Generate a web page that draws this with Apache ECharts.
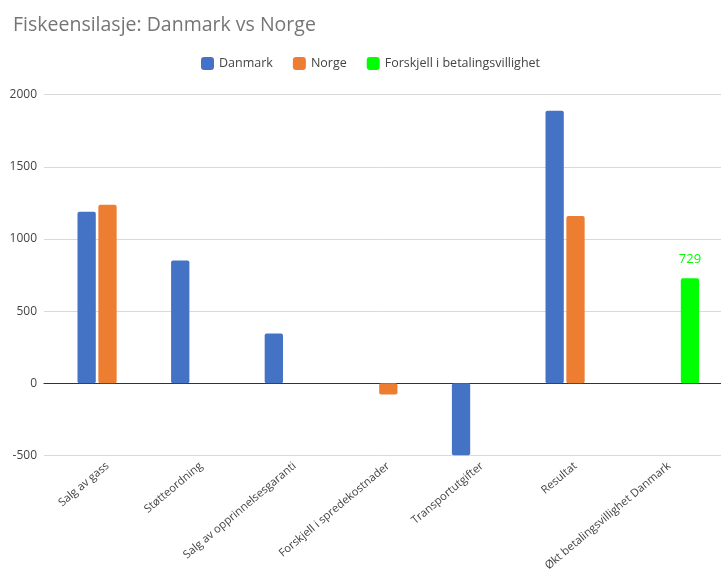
<!DOCTYPE html>
<html>
<head>
<meta charset="utf-8">
<script src="https://cdn.jsdelivr.net/npm/echarts@6/dist/echarts.min.js"></script>
<style>html,body{margin:0;padding:0;background:#fff}#c{width:721px;height:574px}</style>
</head>
<body>
<div id="c"></div>
<script>
const categories = ['Salg av gass','Støtteordning','Salg av opprinnelsesgaranti','Forskjell i spredekostnader','Transportutgifter','Resultat','Økt betalingsvillighet Danmark'];
const danmark = [1189, 852, 346, null, -498, 1889, null];
const norge = [1238, null, null, -78, null, 1160, null];
const forskjell = [null, null, null, null, null, null, 729];
const yTicks = {min: -500, max: 2000, interval: 500};

const chart = echarts.init(document.getElementById('c'));
const font = 'Open Sans';
const gridTop = 94.7, gridHeight = 360.8;
chart.setOption({
  animation: false,
  title: {text: 'Fiskeensilasje: Danmark vs Norge', left: 8, top: 10,
    textStyle: {fontFamily: font, fontSize: 19.5, fontWeight: 'normal', color: '#757575'}},
  legend: {top: 52, left: 196, itemWidth: 13, itemHeight: 13, itemGap: 20,
    textStyle: {fontFamily: font, fontSize: 12.5, color: '#444'},
    data: ['Danmark','Norge','Forskjell i betalingsvillighet']},
  grid: [
    {left: 60.7, width: 655.2, top: gridTop, height: gridHeight, outerBoundsMode: 'none', containLabel: false},
    {left: 44, right: 0, top: gridTop, height: gridHeight, outerBoundsMode: 'none', containLabel: false}
  ],
  xAxis: [
    {type: 'category', gridIndex: 0, data: categories, position: 'bottom',
      axisLine: {show: false, onZero: false}, axisTick: {show: false},
      axisLabel: {rotate: 40, margin: 9, fontFamily: font, fontSize: 11.2, color: '#444', interval: 0}},
    {type: 'category', gridIndex: 1, data: categories,
      axisLine: {show: true, onZero: true, lineStyle: {color: '#333', width: 1.2}},
      axisTick: {show: false}, axisLabel: {show: false}}
  ],
  yAxis: [
    {type: 'value', gridIndex: 0, min: yTicks.min, max: yTicks.max, interval: yTicks.interval,
      axisLabel: {show: false}, splitLine: {show: false}, axisLine: {show: false}, axisTick: {show: false}},
    {type: 'value', gridIndex: 1, min: yTicks.min, max: yTicks.max, interval: yTicks.interval,
      axisLabel: {margin: 7, fontFamily: font, fontSize: 12, color: '#444', formatter: v => String(v)},
      splitLine: {lineStyle: {color: '#d9d9d9', width: 1}}, axisLine: {show: false}, axisTick: {show: false}}
  ],
  series: [
    {name: 'Danmark', type: 'bar', xAxisIndex: 0, yAxisIndex: 0, data: danmark, barWidth: 18.3, barGap: '14%',
      itemStyle: {color: '#4472C4', borderRadius: 2}},
    {name: 'Norge', type: 'bar', xAxisIndex: 0, yAxisIndex: 0, data: norge, barWidth: 18.3, barGap: '14%',
      itemStyle: {color: '#ED7D31', borderRadius: 2}},
    {name: 'Forskjell i betalingsvillighet', type: 'bar', xAxisIndex: 0, yAxisIndex: 0, data: forskjell, barWidth: 18.3, barGap: '14%',
      itemStyle: {color: '#00FF00', borderRadius: 2},
      label: {show: true, position: 'top', distance: 12, fontFamily: font, fontSize: 13, color: '#00FF00'}},
    {type: 'bar', xAxisIndex: 1, yAxisIndex: 1, data: [], silent: true}
  ]
});
</script>
</body>
</html>
